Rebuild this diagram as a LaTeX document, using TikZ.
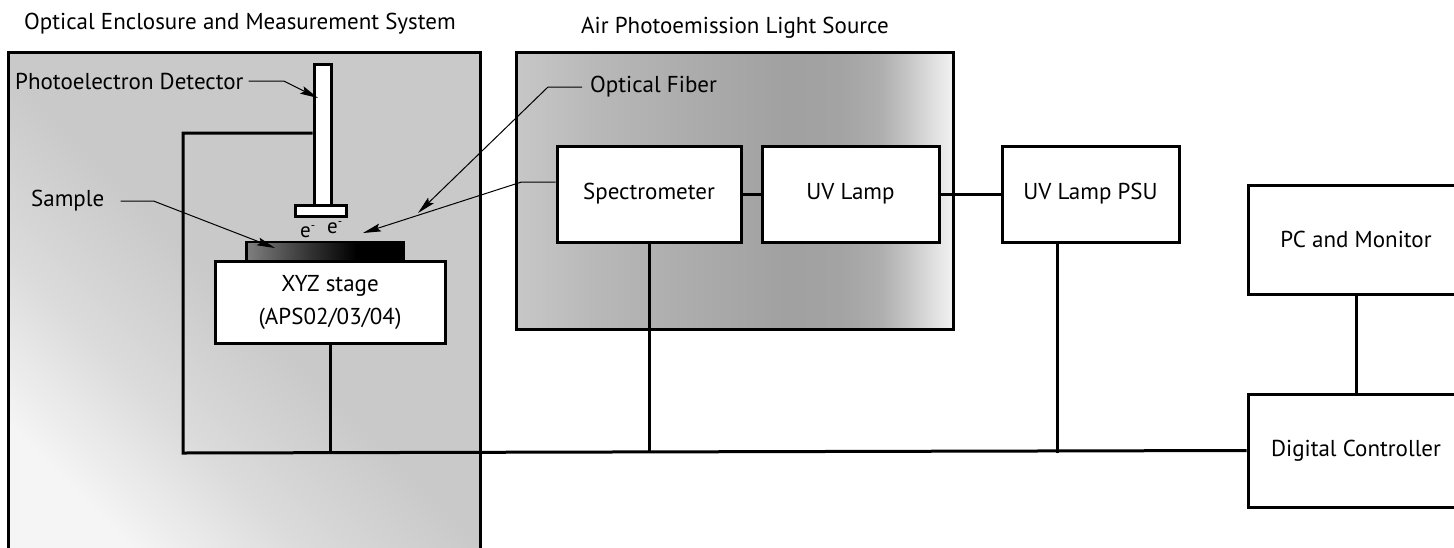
\documentclass[tikz,border=0pt]{standalone}
\usepackage{fontspec}
\setmainfont{PT Sans}
\usetikzlibrary{arrows.meta,calc}
\pgfdeclarehorizontalshading{lightsrc}{100bp}{rgb(0bp)=(0.78,0.78,0.78); rgb(25bp)=(0.78,0.78,0.78); rgb(34.6bp)=(0.72,0.72,0.72); rgb(46bp)=(0.67,0.67,0.67); rgb(56bp)=(0.63,0.63,0.63); rgb(62bp)=(0.64,0.64,0.64); rgb(66.6bp)=(0.68,0.68,0.68); rgb(70bp)=(0.78,0.78,0.78); rgb(73.5bp)=(0.9,0.9,0.9); rgb(75bp)=(0.95,0.95,0.95); rgb(100bp)=(0.95,0.95,0.95)}
\pgfdeclareverticalshading{enclshade}{100bp}{rgb(0bp)=(0.96,0.96,0.96); rgb(25bp)=(0.96,0.96,0.96); rgb(37bp)=(0.86,0.86,0.86); rgb(50bp)=(0.79,0.79,0.79); rgb(100bp)=(0.79,0.79,0.79)}
\pgfdeclarehorizontalshading{sampleshade}{100bp}{rgb(0bp)=(0.5,0.5,0.5); rgb(25bp)=(0.5,0.5,0.5); rgb(45bp)=(0.2,0.2,0.2); rgb(60bp)=(0,0,0); rgb(100bp)=(0,0,0)}
\begin{document}
\begin{tikzpicture}[x=1pt,y=-1pt,
  font=\fontsize{23}{26}\selectfont,
  box/.style={draw, line width=3pt, fill=white, inner sep=0pt},
  wire/.style={line width=3pt},
  leadarrow/.style={line width=1pt, -{Stealth[length=18pt,width=8pt,inset=3pt]}},
  txt/.style={inner sep=0pt},
  elec/.style={inner sep=0pt, anchor=base west, font=\fontsize{21}{24}\selectfont}]
\useasboundingbox (0,0) rectangle (1454,547);
\clip (0,0) rectangle (1454,547);
% enclosures
\node[txt] (t1) at (240,24) {Optical Enclosure and Measurement System};
\node[txt] (t2) at (735,28) {Air Photoemission Light Source};
\path[draw, line width=3pt, shading=enclshade, shading angle=-45] (8,52) rectangle (480,570);
\path[draw, line width=3pt, shading=lightsrc] (516,52) rectangle (953,329);
% detector
\node[box, minimum width=17pt, minimum height=141pt] (rod) at (322.5,134.5) {};
\node[box, minimum width=51pt, minimum height=11pt] (plate) at (320.5,210.5) {};
% stage and sample
\node[box, minimum width=230pt, minimum height=82pt, align=center, font=\fontsize{23}{33}\selectfont] (stage) at (330,302) {XYZ stage\\(APS02/03/04)};
\node[draw, line width=2.5pt, shading=sampleshade, minimum width=157pt, minimum height=19pt, inner sep=0pt] (sample) at (325,251.5) {};
\node[elec] (e1) at (300,237) {e\raisebox{8pt}{\fontsize{12}{12}\selectfont -}};
\node[elec] (e2) at (327,233) {e\raisebox{8pt}{\fontsize{12}{12}\selectfont -}};
% light source boxes
\node[box, minimum width=184pt, minimum height=96pt] (spec) at (649,194) {Spectrometer};
\node[box, minimum width=177pt, minimum height=96pt] (uv) at (850.5,194) {UV Lamp};
\node[box, minimum width=177pt, minimum height=96pt] (psu) at (1090.5,194) {UV Lamp PSU};
\node[box, minimum width=216pt, minimum height=109pt] (pc) at (1356,239.5) {PC and Monitor};
\node[box, minimum width=216pt, minimum height=113pt] (dc) at (1356,450.5) {Digital Controller};
% labels
\node[txt, anchor=west] (pd) at (15,81) {Photoelectron Detector};
\node[txt, anchor=west] (smp) at (31,201) {Sample};
\node[txt, anchor=west] (of) at (590,87) {Optical Fiber};
% wiring
\coordinate (bus0) at (183,453);
\draw[wire] (rod.west |- 0,133) -| (bus0) -- (dc.west);
\draw[wire] (stage.south) -- (stage.south |- bus0);
\draw[wire] (spec.south) -- (spec.south |- bus0);
\draw[wire] ([xshift=-33.5pt]psu.south) -- ([xshift=-33.5pt]psu.south |- bus0);
\draw[wire] (spec.east) -- (uv.west);
\draw[wire] (uv.east) -- (psu.west);
\draw[wire] (pc.south) -- (dc.north);
% leaders
\coordinate (pdtip) at (318,98);
\coordinate (smptip) at (275,248);
\coordinate (oftip1) at (418,213);
\coordinate (oftip2) at (363,233);
\draw[leadarrow] ([xshift=5pt]pd.east) -- ++(35,0) -- (pdtip);
\draw[leadarrow] ([xshift=16pt]smp.east) -- ++(33,0) -- (smptip);
\draw[leadarrow] ([xshift=-8pt]of.west) -- ++(-34,0) -- (oftip1);
\draw[leadarrow] ([yshift=12pt]spec.west) -- ++(-34,0) -- (oftip2);
\end{tikzpicture}
\end{document}
